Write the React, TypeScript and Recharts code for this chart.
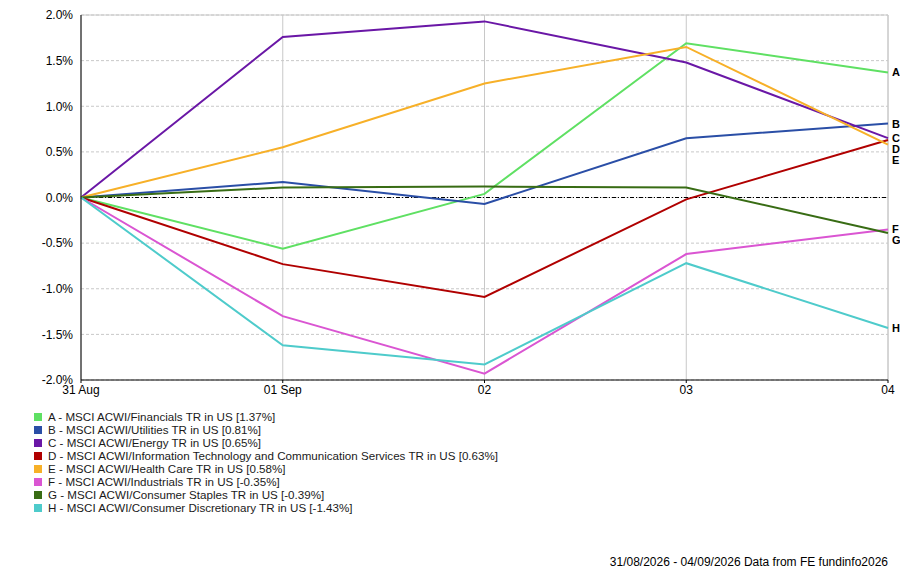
import { LineChart, Line, XAxis, YAxis, CartesianGrid, ReferenceLine, LabelList } from 'recharts';

const dates = ['31 Aug', '01 Sep', '02', '03', '04'];

const financials = [0, -0.56, 0.04, 1.69, 1.37];
const utilities = [0, 0.17, -0.07, 0.65, 0.81];
const energy = [0, 1.76, 1.93, 1.48, 0.65];
const infoTech = [0, -0.73, -1.09, -0.02, 0.63];
const healthCare = [0, 0.55, 1.25, 1.65, 0.58];
const industrials = [0, -1.3, -1.93, -0.62, -0.35];
const staples = [0, 0.11, 0.12, 0.11, -0.39];
const discretionary = [0, -1.62, -1.83, -0.72, -1.43];

const yTicks = [-2, -1.5, -1, -0.5, 0, 0.5, 1, 1.5, 2];

const series = [
  { key: 'A', name: 'MSCI ACWI/Financials TR in US', values: financials, color: '#5fe063' },
  { key: 'B', name: 'MSCI ACWI/Utilities TR in US', values: utilities, color: '#2a4ea6' },
  { key: 'C', name: 'MSCI ACWI/Energy TR in US', values: energy, color: '#6a17a6' },
  { key: 'D', name: 'MSCI ACWI/Information Technology and Communication Services TR in US', values: infoTech, color: '#b00000' },
  { key: 'E', name: 'MSCI ACWI/Health Care TR in US', values: healthCare, color: '#f7b028' },
  { key: 'F', name: 'MSCI ACWI/Industrials TR in US', values: industrials, color: '#da55d2' },
  { key: 'G', name: 'MSCI ACWI/Consumer Staples TR in US', values: staples, color: '#386c14' },
  { key: 'H', name: 'MSCI ACWI/Consumer Discretionary TR in US', values: discretionary, color: '#4ecbcb' },
];

const chartData = dates.map((d, i) => {
  const row: Record<string, string | number> = { date: d };
  series.forEach(s => { row[s.key] = s.values[i]; });
  return row;
});

// push end labels apart so they don't overlap (gap in % units, ~11px)
const PLOT_H = 365;
const PX_PER_UNIT = PLOT_H / 4;
const gap = 11 / PX_PER_UNIT;
const lastIdx = dates.length - 1;
const sorted = [...series].sort((a, b) => b.values[lastIdx] - a.values[lastIdx]);
const labelShift: Record<string, number> = {};
let prev = Infinity;
sorted.forEach(s => {
  const v = s.values[lastIdx];
  const adj = Math.min(v, prev - gap);
  labelShift[s.key] = (v - adj) * PX_PER_UNIT;
  prev = adj;
});

const fmt = (v: number) => `${v.toFixed(1)}%`;
const font = 'Liberation Sans, Arial, sans-serif';

export default function App() {
  return (
    <div style={{ position: 'absolute', left: 0, top: 0, width: 900, height: 569, background: '#fff', fontFamily: font }}>
      <LineChart width={900} height={569} data={chartData} margin={{ top: 15, right: 12, left: 0, bottom: 169 }}>
        <CartesianGrid stroke="#c8c8c8" strokeDasharray="3 2" horizontal vertical={false} />
        <CartesianGrid stroke="#c8c8c8" horizontal={false} vertical />
        <ReferenceLine y={2} stroke="#c8c8c8" />
        <ReferenceLine x="04" stroke="#c8c8c8" />
        <XAxis
          dataKey="date"
          axisLine={{ stroke: '#000' }}
          tickLine={{ stroke: '#000' }}
          tickSize={3}
          tick={{ fontSize: 12, fill: '#000', fontFamily: font }}
          interval={0}
          height={20}
        />
        <YAxis
          domain={[-2, 2]}
          ticks={yTicks}
          tickFormatter={fmt}
          axisLine={{ stroke: '#000' }}
          tickLine={false}
          tick={{ fontSize: 12, fill: '#000', fontFamily: font }}
          width={81}
          interval={0}
        />
        <ReferenceLine y={0} stroke="#000" strokeDasharray="4 2 1 2" />
        {series.map(s => (
          <Line
            key={s.key}
            dataKey={s.key}
            stroke={s.color}
            strokeWidth={2}
            dot={false}
            isAnimationActive={false}
          >
            <LabelList
              dataKey={s.key}
              content={(p: any) =>
                p.index === lastIdx ? (
                  <text
                    x={p.x + 4}
                    y={p.y + labelShift[s.key]}
                    dy={4}
                    fontSize={11}
                    fontWeight="bold"
                    fill="#000"
                    fontFamily={font}
                  >
                    {s.key}
                  </text>
                ) : null
              }
            />
          </Line>
        ))}
      </LineChart>
      <div style={{ position: 'absolute', left: 34, top: 410, fontSize: 11.6, color: '#1a1a1a', lineHeight: '13px' }}>
        {series.map(s => (
          <div key={s.key} style={{ display: 'flex', alignItems: 'center', whiteSpace: 'nowrap' }}>
            <span style={{ width: 8, height: 8, background: s.color, display: 'inline-block', marginRight: 6 }} />
            {`${s.key} - ${s.name} [${s.values[lastIdx].toFixed(2)}%]`}
          </div>
        ))}
      </div>
      <div style={{ position: 'absolute', right: 12, top: 555, fontSize: 12, color: '#000' }}>
        31/08/2026 - 04/09/2026 Data from FE fundinfo2026
      </div>
    </div>
  );
}
